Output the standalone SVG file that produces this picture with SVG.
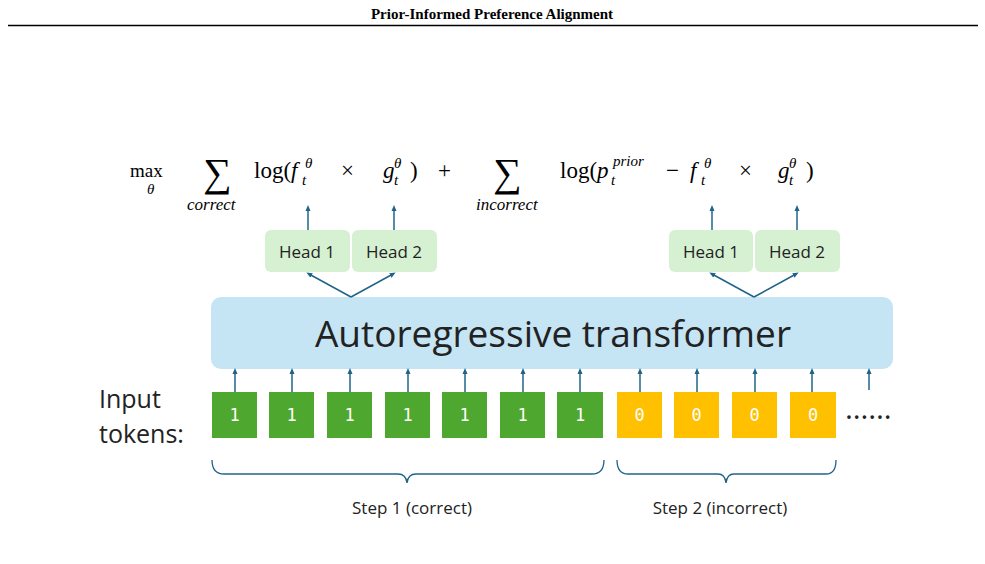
<svg xmlns="http://www.w3.org/2000/svg" width="985" height="564" viewBox="0 0 985 564">
<defs>
<marker id="ah" markerWidth="6" markerHeight="6" refX="3" refY="3" orient="auto" markerUnits="userSpaceOnUse"><path d="M0,0.5 L6,3 L0,5.5 z" fill="#1f6488"/></marker>
<style>
.m{font-family:"Liberation Serif",serif;font-size:23px;fill:#000}
.i{font-style:italic}
.s{font-size:15px}
.c{font-family:"Open Sans","Noto Sans",sans-serif;fill:#222}
.tok{fill:#fff;font-family:"DejaVu Sans Mono",monospace;font-size:17px;text-anchor:middle}
.g{fill:#4ea72e}.y{fill:#ffc000}
.hd{fill:#d6f0d2}
.ar{stroke:#1f6488;stroke-width:1.5;fill:none;marker-end:url(#ah)}
.br{stroke:#1f6488;stroke-width:1.3;fill:none}
</style>
</defs>
<rect width="985" height="564" fill="#fff"/>
<text x="492" y="19" text-anchor="middle" font-family="Liberation Serif,serif" font-weight="bold" font-size="15">Prior-Informed Preference Alignment</text>
<line x1="8" y1="25.5" x2="978" y2="25.5" stroke="#000" stroke-width="1.5"/>
<g id="formula">
<text class="m" x="130" y="177" style="font-size:19px">max</text>
<text class="m i" x="147" y="194" style="font-size:15px">θ</text>
<text class="m" x="203" y="186" style="font-size:40px">∑</text>
<text class="m i" x="187" y="210" style="font-size:17px">correct</text>
<text class="m" x="254" y="178">log(</text>
<text class="m i" x="291" y="178">f</text><text class="m i s" x="302" y="185">t</text><text class="m i s" x="305" y="168">θ</text>
<text class="m" x="341" y="178">×</text>
<text class="m i" x="383" y="178">g</text><text class="m i s" x="394" y="185">t</text><text class="m i s" x="394" y="168">θ</text>
<text class="m" x="410" y="178">)</text>
<text class="m" x="438" y="178">+</text>
<text class="m" x="493" y="186" style="font-size:40px">∑</text>
<text class="m i" x="476" y="210" style="font-size:17px">incorrect</text>
<text class="m" x="560" y="178">log(</text>
<text class="m i" x="597" y="178">p</text><text class="m i s" x="611" y="185">t</text><text class="m i s" x="613" y="166">prior</text>
<text class="m" x="666" y="178">−</text>
<text class="m i" x="690" y="178">f</text><text class="m i s" x="701" y="185">t</text><text class="m i s" x="704" y="168">θ</text>
<text class="m" x="739" y="178">×</text>
<text class="m i" x="778" y="178">g</text><text class="m i s" x="789" y="185">t</text><text class="m i s" x="789" y="168">θ</text>
<text class="m" x="806" y="178">)</text>
</g>
<g id="heads">
<g id="h1"><rect class="hd" x="265" y="230" width="85" height="42" rx="6"/><text class="c" x="307" y="258" font-size="17" text-anchor="middle">Head 1</text></g>
<g id="h2"><rect class="hd" x="352" y="230" width="85" height="42" rx="6"/><text class="c" x="394" y="258" font-size="17" text-anchor="middle">Head 2</text></g>
<g id="h3"><rect class="hd" x="669" y="230" width="84" height="42" rx="6"/><text class="c" x="711" y="258" font-size="17" text-anchor="middle">Head 1</text></g>
<g id="h4"><rect class="hd" x="755" y="230" width="85" height="42" rx="6"/><text class="c" x="797" y="258" font-size="17" text-anchor="middle">Head 2</text></g>
</g>
<g id="transformer"><rect x="211" y="297" width="682" height="72" rx="10" fill="#c5e5f4"/><text class="c" x="553" y="347" font-size="37" text-anchor="middle">Autoregressive transformer</text></g>
<g id="label"><text class="c" x="99" y="408" font-size="25">Input</text><text class="c" x="99" y="443" font-size="25">tokens:</text></g>
<g id="tokens">
<rect class="g" x="212" y="392" width="45" height="46"/><text class="tok" x="234.5" y="421">1</text>
<rect class="g" x="269" y="392" width="45" height="46"/><text class="tok" x="291.5" y="421">1</text>
<rect class="g" x="327" y="392" width="45" height="46"/><text class="tok" x="349.5" y="421">1</text>
<rect class="g" x="385" y="392" width="45" height="46"/><text class="tok" x="407.5" y="421">1</text>
<rect class="g" x="442" y="392" width="45" height="46"/><text class="tok" x="464.5" y="421">1</text>
<rect class="g" x="500" y="392" width="45" height="46"/><text class="tok" x="522.5" y="421">1</text>
<rect class="g" x="557" y="392" width="46" height="46"/><text class="tok" x="580" y="421">1</text>
<rect class="y" x="617" y="392" width="45" height="46"/><text class="tok" x="639.5" y="421">0</text>
<rect class="y" x="674" y="392" width="45" height="46"/><text class="tok" x="696.5" y="421">0</text>
<rect class="y" x="732" y="392" width="45" height="46"/><text class="tok" x="754.5" y="421">0</text>
<rect class="y" x="790" y="392" width="46" height="46"/><text class="tok" x="813" y="421">0</text>
<text class="c" x="845" y="419" font-size="30">……</text>
</g>
<g id="connectors">
<path class="ar" d="M235,392V371"/><path class="ar" d="M292,392V371"/><path class="ar" d="M350,392V371"/><path class="ar" d="M408,392V371"/><path class="ar" d="M465,392V371"/><path class="ar" d="M523,392V371"/><path class="ar" d="M580,392V371"/><path class="ar" d="M640,392V371"/><path class="ar" d="M697,392V371"/><path class="ar" d="M755,392V371"/><path class="ar" d="M812,392V371"/><path class="ar" d="M869,390V371"/>
<path class="ar" d="M351,297L309,274"/><path class="ar" d="M351,297L393,274"/><path class="ar" d="M754,297L712,274"/><path class="ar" d="M754,297L796,274"/>
<path class="ar" d="M308,230V208"/><path class="ar" d="M394,230V208"/><path class="ar" d="M712,230V208"/><path class="ar" d="M797,230V208"/>
<path class="br" d="M212,460Q212,474 224,474H398Q406,474 407,483Q408,474 416,474H592Q604,474 604,460"/>
<path class="br" d="M617,460Q617,474 628,474H718Q725,474 726,483Q727,474 734,474H826Q836,474 836,460"/>
</g>
<g id="steps"><text class="c" x="412" y="514" font-size="17" text-anchor="middle">Step 1 (correct)</text><text class="c" x="720" y="514" font-size="17" text-anchor="middle">Step 2 (incorrect)</text></g>
</svg>
